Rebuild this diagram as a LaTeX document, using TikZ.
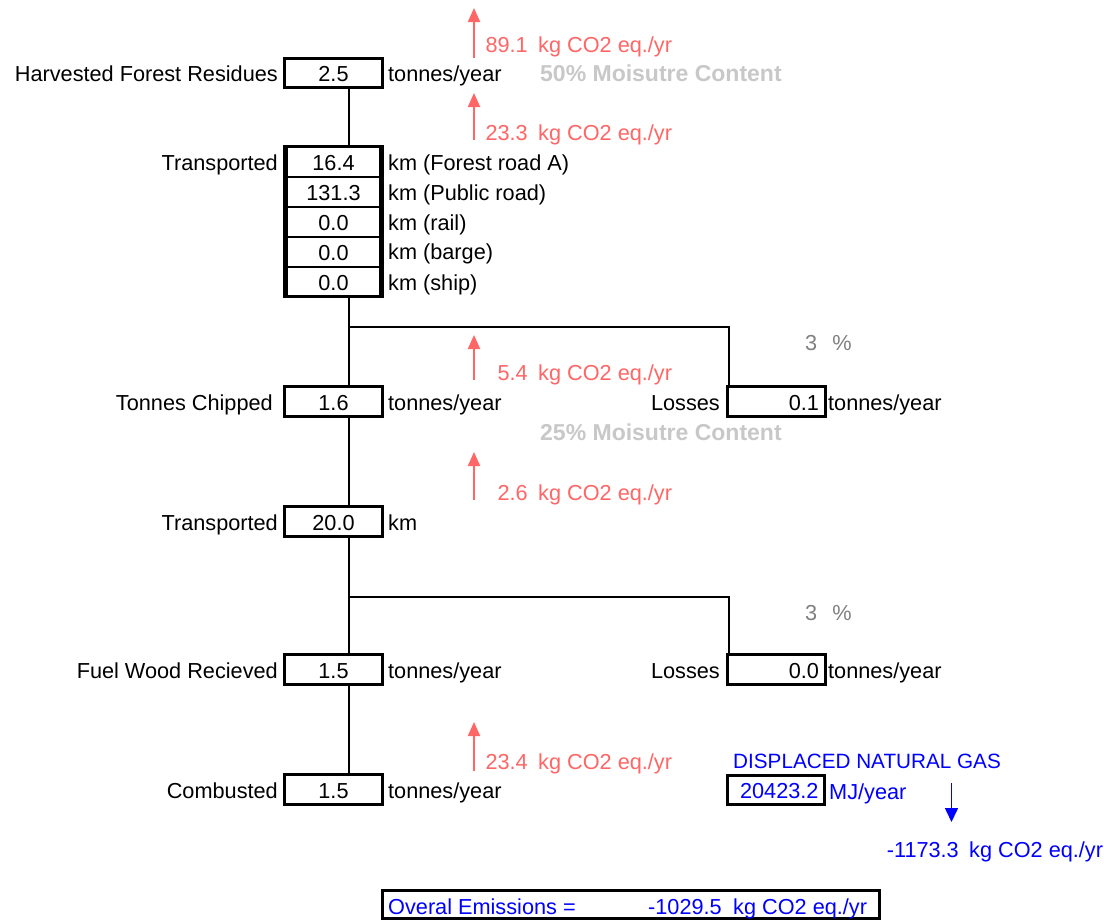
\documentclass[tikz,border=0pt]{standalone}
\usepackage{fontspec}
\setmainfont{Liberation Sans}
\usetikzlibrary{arrows.meta}
\definecolor{emitred}{RGB}{255,102,102}
\definecolor{moistgray}{RGB}{200,200,200}
\definecolor{pctgray}{RGB}{128,128,128}
\definecolor{gasblue}{RGB}{0,0,255}
\begin{document}
\begin{tikzpicture}[x=1pt,y=-1pt,
  every node/.append style={font=\fontsize{21.7}{26}\selectfont},
  lbl/.style={inner sep=0pt, text height=15.5pt, text depth=0pt},
  valbox/.style={draw, line width=3pt, minimum width=97.5pt, minimum height=29.5pt,
    inner sep=0pt, text height=17.4pt, text depth=0pt},
  rightval/.style={text width=85pt, align=right},
  cell/.style={draw, line width=2pt, minimum width=93pt, minimum height=30pt,
    inner sep=0pt, text height=17.4pt, text depth=0pt},
  wire/.style={line width=2pt},
  emit/.style={draw=emitred, line width=2pt, -{Triangle[width=12pt,length=14pt]}},
  redtxt/.style={lbl, text=emitred},
  moist/.style={lbl, text=moistgray, font=\fontsize{23}{27}\selectfont\bfseries},
  pct/.style={lbl, text=pctgray},
  bluetxt/.style={lbl, text=gasblue},
  gasarrow/.style={draw=gasblue, line width=1.6pt, -{Triangle[width=13pt,length=14pt]}}
]
\useasboundingbox (0,0) rectangle (1104,921);
\fill[white] (0,0) rectangle (1104,921);

% ---- main chain of value boxes ----
\node[valbox] (harv) at (333.5,73) {2.5};
\node[draw, line width=3pt, minimum width=98pt, minimum height=150pt, inner sep=0pt] (tstack) at (333.5,221.5) {};
\node[cell] (road) at (333.5,161.5) {16.4};
\node[cell] (pub)  at (333.5,191.5) {131.3};
\node[cell] (rail) at (333.5,221.5) {0.0};
\node[cell] (barge) at (333.5,251.5) {0.0};
\node[cell] (ship) at (333.5,281.5) {0.0};
\node[valbox] (chip)  at (333.5,401.5) {1.6};
\node[valbox] (trans2) at (333.5,521.5) {20.0};
\node[valbox] (fuel)  at (333.5,669.5) {1.5};
\node[valbox] (comb)  at (333.5,789.5) {1.5};

% ---- loss boxes ----
\node[valbox, rightval] (loss1) at (776.5,401.5) {0.1};
\node[valbox, rightval] (loss2) at (776.5,669.5) {0.0};

% ---- left labels ----
\node[lbl, anchor=east] (lharv) at (278,74) {Harvested Forest Residues};
\node[lbl, anchor=east] (ltr1) at (278,163) {Transported};
\node[lbl, anchor=east] (lchip) at (273,403) {Tonnes Chipped};
\node[lbl, anchor=east] (ltr2) at (278,523) {Transported};
\node[lbl, anchor=east] (lfuel) at (278,671) {Fuel Wood Recieved};
\node[lbl, anchor=east] (lcomb) at (278,791) {Combusted};
\node[lbl, anchor=east] (lloss1) at (720,403) {Losses};
\node[lbl, anchor=east] (lloss2) at (720,671) {Losses};

% ---- unit labels ----
\node[lbl, anchor=west] (uharv) at (388,74) {tonnes/year};
\node[lbl, anchor=west] (uroad) at (388,163) {km (Forest road A)};
\node[lbl, anchor=west] (upub) at (388,193) {km (Public road)};
\node[lbl, anchor=west] (urail) at (388,223) {km (rail)};
\node[lbl, anchor=west] (ubarge) at (388,252) {km (barge)};
\node[lbl, anchor=west] (uship) at (388,283) {km (ship)};
\node[lbl, anchor=west] (uchip) at (388,403) {tonnes/year};
\node[lbl, anchor=west] (utr2) at (388,523) {km};
\node[lbl, anchor=west] (ufuel) at (388,671) {tonnes/year};
\node[lbl, anchor=west] (ucomb) at (388,791) {tonnes/year};
\node[lbl, anchor=west] (uloss1) at (828,403) {tonnes/year};
\node[lbl, anchor=west] (uloss2) at (828,671) {tonnes/year};

% ---- loss percentages ----
\node[pct, anchor=west] (pct1) at (805,343) {3\hspace{15pt}\%};
\node[pct, anchor=west] (pct2) at (805,613) {3\hspace{15pt}\%};

% ---- moisture notes ----
\node[moist, anchor=west] (m50) at (540,74) {50\% Moisutre Content};
\node[moist, anchor=west] (m25) at (540,433) {25\% Moisutre Content};

% ---- connectors ----
\coordinate (spine) at (349,0);
\coordinate (drop) at (728.5,0);
\coordinate (split1) at (349,327);
\coordinate (split2) at (349,597);
\draw[wire] (harv.south -| spine) -- (tstack.north -| spine);
\draw[wire] (tstack.south -| spine) -- (chip.north -| spine);
\draw[wire] (split1) -| (loss1.north -| drop);
\draw[wire] (chip.south -| spine) -- (trans2.north -| spine);
\draw[wire] (trans2.south -| spine) -- (fuel.north -| spine);
\draw[wire] (split2) -| (loss2.north -| drop);
\draw[wire] (fuel.south -| spine) -- (comb.north -| spine);

% ---- emission arrows and values ----
\coordinate (e1a) at (474,58);  \coordinate (e1b) at (474,8);
\coordinate (e2a) at (474,140); \coordinate (e2b) at (474,93);
\coordinate (e3a) at (474,380); \coordinate (e3b) at (474,335);
\coordinate (e4a) at (474,500); \coordinate (e4b) at (474,452);
\coordinate (e5a) at (474,771); \coordinate (e5b) at (474,722);
\draw[emit] (e1a) -- (e1b);
\draw[emit] (e2a) -- (e2b);
\draw[emit] (e3a) -- (e3b);
\draw[emit] (e4a) -- (e4b);
\draw[emit] (e5a) -- (e5b);
\node[redtxt, anchor=east] (v1) at (528,45) {89.1};
\node[redtxt, anchor=west] (k1) at (538,45) {kg CO2 eq./yr};
\node[redtxt, anchor=east] (v2) at (528,133) {23.3};
\node[redtxt, anchor=west] (k2) at (538,133) {kg CO2 eq./yr};
\node[redtxt, anchor=east] (v3) at (528,373) {5.4};
\node[redtxt, anchor=west] (k3) at (538,373) {kg CO2 eq./yr};
\node[redtxt, anchor=east] (v4) at (528,493) {2.6};
\node[redtxt, anchor=west] (k4) at (538,493) {kg CO2 eq./yr};
\node[redtxt, anchor=east] (v5) at (528,762) {23.4};
\node[redtxt, anchor=west] (k5) at (538,762) {kg CO2 eq./yr};

% ---- displaced natural gas ----
\node[bluetxt, anchor=west, font=\fontsize{20.7}{25}\selectfont] (gastitle) at (733,761) {DISPLACED NATURAL GAS};
\node[valbox, rightval, text=gasblue] (gas) at (776,790) {20423.2};
\node[bluetxt, anchor=west] (ugas) at (829,792) {MJ/year};
\coordinate (g1) at (951.5,783); \coordinate (g2) at (951.5,822);
\draw[gasarrow] (g1) -- (g2);
\node[bluetxt, anchor=east] (gv) at (959,850) {-1173.3};
\node[bluetxt, anchor=west] (gk) at (969,850) {kg CO2 eq./yr};

% ---- overall total ----
\node[draw, line width=3pt, minimum width=497pt, minimum height=28pt, inner sep=0pt] (total) at (631,904.5) {};
\node[bluetxt, anchor=west] (tl) at (388,907) {Overal Emissions =};
\node[bluetxt, anchor=east] (tv) at (722,907) {-1029.5};
\node[bluetxt, anchor=west] (tk) at (733,907) {kg CO2 eq./yr};
\end{tikzpicture}
\end{document}
